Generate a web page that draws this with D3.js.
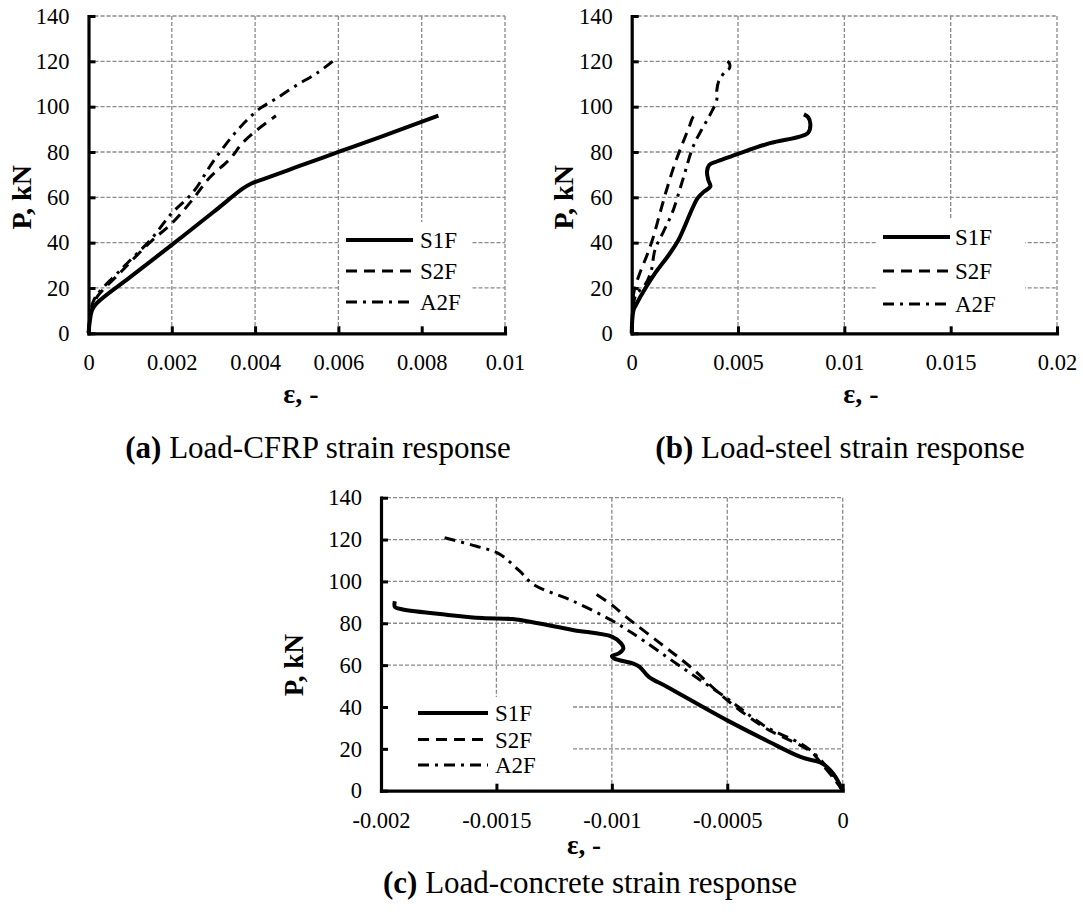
<!DOCTYPE html>
<html>
<head>
<meta charset="utf-8">
<script src="https://cdn.jsdelivr.net/npm/d3@7"></script>
<style>
  body { margin: 0; background: #fff; }
</style>
</head>
<body>
<script>
const FONT = '"Liberation Serif", "Times New Roman", serif';

// tick values
const loadTicks = [0, 20, 40, 60, 80, 100, 120, 140];
const cfrpTicks = [0, 0.002, 0.004, 0.006, 0.008, 0.01];
const steelTicks = [0, 0.005, 0.01, 0.015, 0.02];
const concreteTicks = [-0.002, -0.0015, -0.001, -0.0005, 0];
const seriesNames = ["S1F", "S2F", "A2F"];

// (a) load - CFRP strain  [strain, load kN]
const cfrpS1F = [[0, 0], [0.00003, 5], [0.00008, 10], [0.0002, 13.3], [0.001, 24.8], [0.002, 39], [0.003, 53.5],
    [0.0037, 63.8], [0.0039, 66], [0.0042, 68], [0.005, 73.4], [0.006, 80], [0.007, 86.6], [0.0084, 96]];
const cfrpS2F = [[0, 0], [0.00005, 8], [0.00015, 14.5], [0.0008, 27.5], [0.0015, 40.5], [0.002, 48.5], [0.0025, 59],
    [0.0029, 68.5], [0.0034, 77], [0.0037, 84], [0.0041, 90.5], [0.0045, 96]];
const cfrpA2F = [[0, 0], [0.00005, 9], [0.00015, 15.5], [0.0008, 28.5], [0.0015, 41.5], [0.002, 53], [0.0025, 62],
    [0.003, 76], [0.0035, 88], [0.0038, 94], [0.0041, 99], [0.0045, 103.5], [0.005, 109.5], [0.0055, 115], [0.0059, 120.5]];

// (b) load - steel strain
const steelS1F = [[0, 0], [0.00008, 10], [0.0002, 12.5], [0.0011, 26.5], [0.0017, 34], [0.0022, 41.2], [0.0031, 59.6],
    [0.0034, 62.5], [0.0037, 64.8], [0.0036, 67.7], [0.00354, 71.4], [0.00365, 74.3], [0.004, 75.8], [0.0049, 78.8],
    [0.0065, 83.9], [0.0079, 86.8], [0.0083, 88.5], [0.0084, 92.5], [0.0083, 95.3], [0.0081, 96.6]];
const steelS2F = [[0, 0], [0.00005, 10], [0.0001, 18], [0.0004, 27], [0.0007, 34], [0.001, 42], [0.0013, 52],
    [0.0016, 62], [0.002, 74], [0.0024, 84], [0.0027, 91], [0.0029, 95.5], [0.0031, 96.5]];
const steelA2F = [[0, 0], [0.00005, 10], [0.0002, 17], [0.0006, 21], [0.0009, 27], [0.0011, 37], [0.0015, 45],
    [0.0019, 53], [0.0024, 67.7], [0.0029, 82.7], [0.0033, 90], [0.0037, 96.7], [0.004, 103], [0.004, 107],
    [0.0041, 111.4], [0.0044, 115.5], [0.0046, 117], [0.0046, 119], [0.0045, 120]];

// (c) load - concrete strain
const concreteS1F = [[-0.00194, 90.5], [-0.00194, 87.8], [-0.00191, 86.7], [-0.00171, 84], [-0.00156, 82.5],
    [-0.00143, 82], [-0.00132, 80], [-0.00117, 76.8], [-0.001, 73.6], [-0.00096, 70.4], [-0.00095, 68],
    [-0.00097, 65.6], [-0.001, 64.3], [-0.00099, 63.2], [-0.00091, 60.8], [-0.00088, 59.2], [-0.00084, 54.4],
    [-0.00076, 49.6], [-0.0005, 33.6], [-0.00033, 24], [-0.00018, 16], [-0.00009, 13.1], [-0.00004, 8], [0, 0]];
const concreteS2F = [[0, 0], [-0.00004, 6], [-0.0001, 14], [-0.00013, 18], [-0.00018, 21.5], [-0.00033, 29.6],
    [-0.0005, 43.2], [-0.00066, 59.2], [-0.00079, 70.4], [-0.00094, 83.2], [-0.001, 88.8], [-0.00109, 95.5]];
const concreteA2F = [[0, 0], [-0.00004, 7], [-0.00008, 12.8], [-0.00013, 18.4], [-0.00018, 22.4], [-0.00033, 30.4],
    [-0.0005, 44], [-0.00069, 58.4], [-0.00091, 75.2], [-0.001, 81.3], [-0.00117, 90.7], [-0.00134, 98.6],
    [-0.0014, 105], [-0.00149, 113.3], [-0.00159, 116.9], [-0.00173, 121]];

const styles = {
    S1F: { width: 4, dash: null },
    S2F: { width: 3, dash: "11,7" },
    A2F: { width: 3, dash: "11,6,3,6" }
};

const svg = d3.select("body").append("svg")
    .attr("width", 1083)
    .attr("height", 915)
    .attr("font-family", FONT);

const panels = [
    {
        left: 88.5, right: 505, top: 16, bottom: 333.3,
        xDomain: [0, 0.01], xTicks: cfrpTicks,
        series: [cfrpS1F, cfrpS2F, cfrpA2F],
        legendBox: [340, 222, 132, 108], legendLine: [346, 413], legendText: 420, legendRows: [240, 271, 302],
        yTitle: [21.5, 60], xTitle: [301, 403], titleSize: 28,
        caption: { x: 318, y: 458, tag: "(a)", rest: " Load-CFRP strain response" }
    },
    {
        left: 631.7, right: 1057, top: 16, bottom: 333.3,
        xDomain: [0, 0.02], xTicks: steelTicks,
        series: [steelS1F, steelS2F, steelA2F],
        legendBox: [877, 219, 148, 111], legendLine: [883, 950], legendText: 955, legendRows: [237, 271, 304],
        yTitle: [563, 60], xTitle: [861, 403], titleSize: 28,
        caption: { x: 840, y: 458, tag: "(b)", rest: " Load-steel strain response" }
    },
    {
        left: 381, right: 842.7, top: 497.7, bottom: 790.7,
        xDomain: [-0.002, 0], xTicks: concreteTicks,
        series: [concreteS1F, concreteS2F, concreteA2F],
        legendBox: [383, 697, 189, 92], legendLine: [418, 488], legendText: 495, legendRows: [713, 739.5, 765],
        yTitle: [294, 60], xTitle: [584, 854], titleSize: 27,
        caption: { x: 590, y: 893, tag: "(c)", rest: " Load-concrete strain response" }
    }
];

panels.forEach(drawPanel);

function drawPanel(p) {
    const x = d3.scaleLinear().domain(p.xDomain).range([p.left, p.right]);
    const y = d3.scaleLinear().domain([0, 140]).range([p.bottom, p.top]);
    const g = svg.append("g");

    //grid
    g.append("g").selectAll("line")
        .data(loadTicks.filter(d => d > 0))
        .join("line")
        .attr("x1", p.left).attr("x2", p.right)
        .attr("y1", d => y(d)).attr("y2", d => y(d));
    g.append("g").selectAll("line")
        .data(p.xTicks.filter(d => d !== p.xDomain[0]))
        .join("line")
        .attr("x1", d => x(d)).attr("x2", d => x(d))
        .attr("y1", p.top).attr("y2", p.bottom);
    g.selectAll("line")
        .attr("stroke", "#8a8a8a")
        .attr("stroke-width", 1.3)
        .attr("stroke-dasharray", "4,2");

    //legend background
    const b = p.legendBox;
    g.append("rect")
        .attr("x", b[0]).attr("y", b[1]).attr("width", b[2]).attr("height", b[3])
        .attr("fill", "white");

    //curves
    const line = d3.line()
        .x(d => x(d[0]))
        .y(d => y(d[1]))
        .curve(d3.curveCatmullRom.alpha(0.5));

    p.series.forEach((s, i) => {
        const st = styles[seriesNames[i]];
        g.append("path")
            .datum(s)
            .attr("d", line)
            .attr("fill", "none")
            .attr("stroke", "black")
            .attr("stroke-width", st.width)
            .attr("stroke-linejoin", "round")
            .attr("stroke-dasharray", st.dash);
    });

    //axes
    const yAxis = d3.axisLeft(y)
        .tickValues(loadTicks)
        .tickSizeInner(-7)
        .tickSizeOuter(0)
        .tickPadding(19);
    const xAxis = d3.axisBottom(x)
        .tickValues(p.xTicks)
        .tickSizeInner(-7)
        .tickSizeOuter(0)
        .tickPadding(21)
        .tickFormat(d => String(d));

    [g.append("g").attr("transform", `translate(${p.left},0)`).call(yAxis),
     g.append("g").attr("transform", `translate(0,${p.bottom})`).call(xAxis)].forEach(a => {
        a.attr("font-family", FONT)
            .attr("font-size", 22.5);
        a.select(".domain").attr("stroke-width", 3.2).attr("stroke-linecap", "square");
        a.selectAll(".tick line").attr("stroke-width", 3);
        a.selectAll(".tick text").attr("fill", "black").attr("font-family", FONT);
    });

    //axis titles
    g.append("text")
        .attr("transform", `translate(${p.yTitle[0]},${y(p.yTitle[1])}) rotate(-90)`)
        .attr("text-anchor", "middle")
        .attr("dy", "0.35em")
        .attr("font-family", FONT)
        .attr("font-weight", "bold")
        .attr("font-size", p.titleSize)
        .text("P, kN");
    g.append("text")
        .attr("x", p.xTitle[0]).attr("y", p.xTitle[1])
        .attr("text-anchor", "middle")
        .attr("font-family", FONT)
        .attr("font-weight", "bold")
        .attr("font-size", p.titleSize)
        .text("ε, -");

    //legend
    seriesNames.forEach((name, i) => {
        const st = styles[name];
        const ly = p.legendRows[i];
        g.append("line")
            .attr("x1", p.legendLine[0]).attr("x2", p.legendLine[1])
            .attr("y1", ly).attr("y2", ly)
            .attr("stroke", "black")
            .attr("stroke-width", st.width)
            .attr("stroke-dasharray", st.dash);
        g.append("text")
            .attr("x", p.legendText).attr("y", ly)
            .attr("dy", "0.35em")
            .attr("font-family", FONT)
            .attr("font-size", 23)
            .text(name);
    });

    //caption
    const cap = svg.append("text")
        .attr("x", p.caption.x).attr("y", p.caption.y)
        .attr("text-anchor", "middle")
        .attr("font-family", FONT)
        .attr("font-size", 31);
    cap.append("tspan").attr("font-weight", "bold").text(p.caption.tag);
    cap.append("tspan").text(p.caption.rest);
}
</script>
</body>
</html>
